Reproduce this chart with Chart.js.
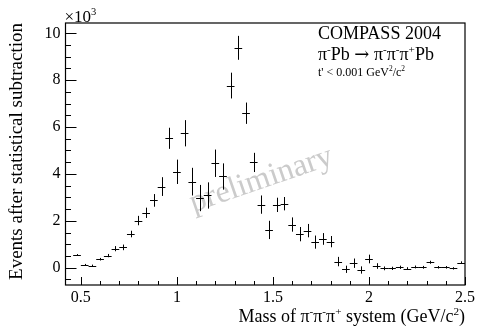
<!DOCTYPE html>
<html>
<head>
<meta charset="utf-8">
<script src="https://cdn.jsdelivr.net/npm/chart.js@4"></script>
<style>
  html, body { margin: 0; padding: 0; background: #fff; }
  canvas { display: block; }
</style>
</head>
<body>
<canvas id="massChart" width="478" height="327"></canvas>
<script>
// bin centres (GeV/c^2), 40 MeV bins
const massBins = [0.48, 0.52, 0.56, 0.60, 0.64, 0.68, 0.72, 0.76, 0.80, 0.84,
                  0.88, 0.92, 0.96, 1.00, 1.04, 1.08, 1.12, 1.16, 1.20, 1.24,
                  1.28, 1.32, 1.36, 1.40, 1.44, 1.48, 1.52, 1.56, 1.60, 1.64,
                  1.68, 1.72, 1.76, 1.80, 1.84, 1.88, 1.92, 1.96, 2.00, 2.04,
                  2.08, 2.12, 2.16, 2.20, 2.24, 2.28, 2.32, 2.36, 2.40, 2.44, 2.48];
const events = [540, 120, 90, 360, 515, 810, 865, 1435, 2010, 2340,
                2870, 3460, 5520, 4090, 5735, 3670, 2970, 3080, 4455, 3890,
                7770, 9380, 6590, 4490, 2690, 1610, 2680, 2730, 1840, 1430,
                1580, 1090, 1225, 1110, 260, -70, 190, -100, 370, 70,
                -30, -30, 15, -40, 30, 15, 230, 15, 15, -30, 215];
const eventErrors = [40, 40, 40, 55, 70, 110, 120, 140, 200, 220,
                     270, 400, 450, 520, 560, 590, 560, 560, 585, 560,
                     550, 510, 455, 410, 390, 390, 305, 285, 305, 305,
                     285, 280, 250, 240, 200, 155, 200, 155, 185, 120,
                     80, 70, 70, 60, 60, 60, 65, 55, 55, 50, 55];
const binHalfWidth = 0.02;

const xTickValues = [0.5, 1, 1.5, 2, 2.5];
const yTickValues = [0, 2000, 4000, 6000, 8000, 10000];

const serif = '"Liberation Serif", "Times New Roman", serif';

// draws text made of runs: [text, superscript?, optional font family]
function drawRuns(ctx, runs, x, y, size, align) {
    const supSize = size * 0.62;
    const fontOf = r => (r[1] ? supSize : size) + 'px ' + (r[2] || serif);
    let total = 0;
    runs.forEach(r => {
        ctx.font = fontOf(r);
        total += ctx.measureText(r[0]).width;
    });
    let cx = align === 'right' ? x - total : x;
    ctx.textAlign = 'left';
    ctx.textBaseline = 'alphabetic';
    runs.forEach(r => {
        ctx.font = fontOf(r);
        ctx.fillText(r[0], cx, r[1] ? y - size * 0.4 : y);
        cx += ctx.measureText(r[0]).width;
    });
    return total;
}

const histPlugin = {
    id: 'histPlugin',
    beforeDatasetsDraw(chart) {
        const ctx = chart.ctx;
        // watermark
        ctx.save();
        ctx.translate(264, 188);
        ctx.rotate(-19 * Math.PI / 180);
        ctx.fillStyle = '#cbcbcb';
        ctx.font = '32px ' + serif;
        ctx.textAlign = 'center';
        ctx.textBaseline = 'alphabetic';
        ctx.fillText('preliminary', 0, 0);
        ctx.restore();
    },
    afterDatasetsDraw(chart) {
        const ctx = chart.ctx;
        const xs = chart.scales.x, ys = chart.scales.y;
        const area = chart.chartArea;
        ctx.save();
        ctx.beginPath();
        ctx.rect(area.left, area.top, area.right - area.left, area.bottom - area.top);
        ctx.clip();
        ctx.strokeStyle = '#000';
        ctx.lineWidth = 1;
        massBins.forEach((m, i) => {
            const px = xs.getPixelForValue(m);
            const py = ys.getPixelForValue(events[i]);
            const x0 = xs.getPixelForValue(m - binHalfWidth);
            const x1 = xs.getPixelForValue(m + binHalfWidth);
            const y0 = ys.getPixelForValue(events[i] - eventErrors[i]);
            const y1 = ys.getPixelForValue(events[i] + eventErrors[i]);
            ctx.beginPath();
            ctx.moveTo(x0, Math.round(py) + 0.5);
            ctx.lineTo(x1, Math.round(py) + 0.5);
            ctx.moveTo(Math.round(px) + 0.5, y0);
            ctx.lineTo(Math.round(px) + 0.5, y1);
            ctx.stroke();
        });
        ctx.restore();
    },
    afterDraw(chart) {
        const ctx = chart.ctx;
        const xs = chart.scales.x, ys = chart.scales.y;
        const a = chart.chartArea;
        ctx.save();
        ctx.strokeStyle = '#000';
        ctx.lineWidth = 1.2;
        ctx.strokeRect(a.left, a.top, a.right - a.left, a.bottom - a.top);

        // inner tick marks
        ctx.lineWidth = 1;
        ctx.beginPath();
        for (let k = 5; k <= 25; k++) {
            const v = k / 10;
            const px = Math.round(xs.getPixelForValue(v)) + 0.5;
            const len = k % 5 === 0 ? 8 : 4;
            ctx.moveTo(px, a.bottom);
            ctx.lineTo(px, a.bottom - len);
        }
        for (let v = -500; v <= 10000; v += 500) {
            const py = Math.round(ys.getPixelForValue(v)) + 0.5;
            const len = v % 2000 === 0 ? 11 : 5.5;
            ctx.moveTo(a.left, py);
            ctx.lineTo(a.left + len, py);
        }
        ctx.stroke();

        ctx.fillStyle = '#000';
        // exponent label
        drawRuns(ctx, [['\u00d710', 0], ['3', 1]], a.left - 1, 22, 17, 'left');

        // legend text
        drawRuns(ctx, [['COMPASS 2004', 0]], 318, 39, 18, 'left');
        drawRuns(ctx, [['\u03c0', 0], ['-', 1], ['Pb ', 0], ['\u2192', 0, '"DejaVu Serif", serif'], [' \u03c0', 0], ['-', 1], ['\u03c0', 0], ['-', 1], ['\u03c0', 0], ['+', 1], ['Pb', 0]], 318, 60, 18, 'left');
        drawRuns(ctx, [["t' < 0.001 GeV", 0], ['2', 1], ['/c', 0], ['2', 1]], 318, 76, 12, 'left');

        // x axis title
        drawRuns(ctx, [['Mass of \u03c0', 0], ['-', 1], ['\u03c0', 0], ['-', 1], ['\u03c0', 0], ['+', 1], [' system (GeV/c', 0], ['2', 1], [')', 0]], a.right, 322, 18, 'right');

        // y axis title, rotated, aligned to top
        ctx.save();
        ctx.translate(22, a.top);
        ctx.rotate(-Math.PI / 2);
        ctx.font = '19px ' + serif;
        ctx.textAlign = 'right';
        ctx.textBaseline = 'alphabetic';
        ctx.fillText('Events after statistical subtraction', 0, 0);
        ctx.restore();
        ctx.restore();
    }
};

const chart = new Chart(document.getElementById('massChart').getContext('2d'), {
    type: 'scatter',
    data: {
        datasets: [{
            label: 'events',
            data: massBins.map((m, i) => ({ x: m, y: events[i] })),
            pointRadius: 0,
            showLine: false
        }]
    },
    options: {
        responsive: false,
        animation: false,
        layout: { padding: { top: 23, right: 12, left: 0, bottom: 0 } },
        plugins: {
            legend: { display: false },
            tooltip: { enabled: false }
        },
        scales: {
            x: {
                type: 'linear',
                min: 0.42,
                max: 2.5,
                grid: { display: false, drawTicks: false },
                border: { display: false },
                afterBuildTicks: axis => { axis.ticks = xTickValues.map(v => ({ value: v })); },
                afterFit: axis => { axis.height = 42; },
                ticks: {
                    color: '#000',
                    font: { family: serif, size: 16 },
                    padding: 3,
                    maxRotation: 0,
                    autoSkip: false,
                    callback: v => String(v)
                }
            },
            y: {
                type: 'linear',
                min: -740,
                max: 10440,
                grid: { display: false, drawTicks: false },
                border: { display: false },
                afterBuildTicks: axis => { axis.ticks = yTickValues.map(v => ({ value: v })); },
                afterFit: axis => { axis.width = 65.5; },
                ticks: {
                    color: '#000',
                    font: { family: serif, size: 16 },
                    padding: 5,
                    autoSkip: false,
                    callback: v => String(v / 1000)
                }
            }
        }
    },
    plugins: [histPlugin]
});
</script>
</body>
</html>
